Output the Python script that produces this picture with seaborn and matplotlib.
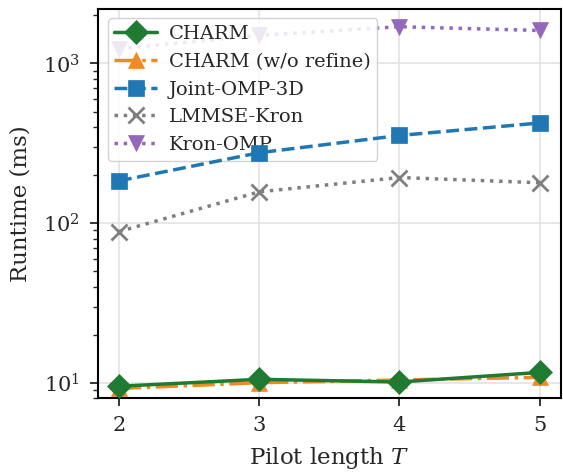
import numpy as np
import pandas as pd
import matplotlib
matplotlib.use("Agg")
import matplotlib.pyplot as plt
import seaborn as sns

pilot_len = [2, 3, 4, 5]
charm = [9.5, 10.5, 10.1, 11.6]
charm_norefine = [9.2, 10.0, 10.4, 10.8]
joint_omp_3d = [184, 276, 354, 424]
lmmse_kron = [88.5, 157, 193, 179]
kron_omp = [1240, 1500, 1700, 1610]

methods = ["CHARM", "CHARM (w/o refine)", "Joint-OMP-3D", "LMMSE-Kron", "Kron-OMP"]
series = [charm, charm_norefine, joint_omp_3d, lmmse_kron, kron_omp]
colors = ["#1f7a32", "#f08a24", "#1f77b4", "#7f7f7f", "#9467bd"]
markers = ["D", "^", "s", "x", "v"]
styles = ["-", "-.", "--", ":", ":"]
zorders = [3, 2.5, 6, 2, 2]

df = pd.DataFrame({
    "T": pilot_len * len(methods),
    "runtime": [v for s in series for v in s],
    "method": [m for m in methods for _ in pilot_len],
})

sns.set_style("ticks")
plt.rcParams["font.family"] = ["DejaVu Serif"]
plt.rcParams["mathtext.fontset"] = "dejavuserif"

fig, ax = plt.subplots(figsize=(5.63, 4.74), dpi=100)

for m, c, mk, ls, z in zip(methods, colors, markers, styles, zorders):
    sub = df[df["method"] == m]
    sns.lineplot(
        data=sub, x="T", y="runtime", ax=ax, color=c, marker=mk,
        linestyle=ls, linewidth=2.5, markersize=12,
        markeredgecolor=c, markerfacecolor=c,
        markeredgewidth=2 if mk == "x" else 0.5, label=m, zorder=z,
    )

ax.set_yscale("log")
ax.set_ylim(8.0, 2210)
ax.set_xticks(pilot_len)
ax.grid(True, which="major", color="#e3e3e3", linewidth=1.2)
ax.set_xlabel("Pilot length $T$", fontsize=16.5, labelpad=7)
ax.set_ylabel("Runtime (ms)", fontsize=16.5, labelpad=8)
ax.tick_params(axis="both", labelsize=15, width=1.3, length=6, pad=7)
ax.tick_params(axis="y", which="minor", width=1, length=3.5)
for sp in ax.spines.values():
    sp.set_linewidth(1.5)
    sp.set_color("black")

leg = ax.legend(loc="upper left", fontsize=14, framealpha=0.85,
                borderaxespad=0.5, handlelength=2.2, labelspacing=0.5,
                borderpad=0.35, handletextpad=0.6)
leg.set_zorder(5)

fig.subplots_adjust(left=0.174, right=0.996, top=0.982, bottom=0.160)
fig.savefig("out.png", dpi=100)
